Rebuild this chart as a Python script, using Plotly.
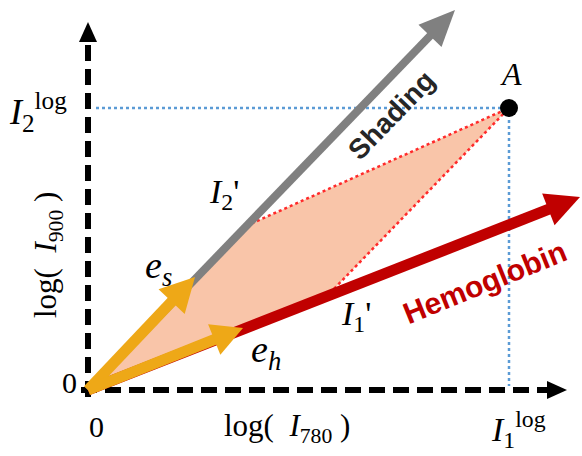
import math
import plotly.graph_objects as go

# ---- diagram data (logical units, origin at 0,0) ----
origin = [0, 0]
point_A = [421, 282]            # (I1_log, I2_log)
shading_tip = [367, 380]
hemoglobin_tip = [492, 193]
e_s_tip = [107, 113]
e_h_tip = [155, 62]
I2_prime = [158, 164]
I1_prime = [242, 97]
x_axis_end = [479, 0]
y_axis_end = [0, 368]
axis_start = -7

W, H = 582, 456
X0, Y0 = 88, 390  # pixel position of origin

fig = go.Figure()

def poly(xs, ys, color, line_color=None, lw=0):
    fig.add_trace(go.Scatter(x=xs, y=ys, mode="lines", fill="toself", fillcolor=color,
                             line=dict(color=line_color or color, width=lw),
                             hoverinfo="skip", showlegend=False))

def line(xs, ys, color, width, dash="solid"):
    fig.add_trace(go.Scatter(x=xs, y=ys, mode="lines",
                             line=dict(color=color, width=width, dash=dash),
                             hoverinfo="skip", showlegend=False))

def arrow(p0, p1, color, w, hl, hw):
    dx, dy = p1[0] - p0[0], p1[1] - p0[1]
    L = math.hypot(dx, dy)
    ux, uy = dx / L, dy / L
    bx, by = p1[0] - hl * ux, p1[1] - hl * uy
    px, py = -uy, ux
    line([p0[0], bx + 2 * ux], [p0[1], by + 2 * uy], color, w)
    poly([p1[0], bx + px * hw / 2, bx - px * hw / 2, p1[0]],
         [p1[1], by + py * hw / 2, by - py * hw / 2, p1[1]], color)

# shaded parallelogram
poly([origin[0], I1_prime[0], point_A[0], I2_prime[0], origin[0]],
     [origin[1], I1_prime[1], point_A[1], I2_prime[1], origin[1]], "#F9C5A9")

# blue projection lines
line([8, point_A[0]], [point_A[1], point_A[1]], "#5B9BD5", 2.5, "dot")
line([point_A[0], point_A[0]], [point_A[1], 4], "#5B9BD5", 2.5, "dot")

# axes
line([axis_start, x_axis_end[0] - 14], [0, 0], "black", 6, "16px,8px")
line([0, 0], [axis_start, y_axis_end[1] - 14], "black", 6, "16px,8px")
arrow([x_axis_end[0] - 20, 0], x_axis_end, "black", 1, 20, 18)
arrow([0, y_axis_end[1] - 20], y_axis_end, "black", 1, 20, 18)

# red dotted lines to A
line([I2_prime[0], point_A[0]], [I2_prime[1], point_A[1]], "#FF2A2A", 2.5, "dot")
line([I1_prime[0], point_A[0]], [I1_prime[1], point_A[1]], "#FF2A2A", 2.5, "dot")

# main direction arrows
arrow(origin, shading_tip, "#808080", 8, 36, 32)
arrow(origin, hemoglobin_tip, "#C00000", 11, 34, 34)

# unit vectors
arrow(origin, e_s_tip, "#EEA817", 11, 34, 36)
arrow(origin, e_h_tip, "#EEA817", 11, 31, 33)

# point A
fig.add_trace(go.Scatter(x=[point_A[0]], y=[point_A[1]], mode="markers",
                         marker=dict(color="black", size=18), hoverinfo="skip", showlegend=False))

serif = "Liberation Serif"
def text(x, y, s, size, color="black", family=serif, angle=0):
    fig.add_annotation(x=x, y=y, text=s, showarrow=False, textangle=angle,
                       font=dict(family=family, size=size, color=color))

text(-50, 278, "<i>I</i><sub>2</sub><sup>log</sup>", 36)
text(-40, 135, "log(  <i>I</i><sub>900</sub> )", 31, angle=-90)
text(-19, 8, "0", 30)
text(8, -36, "0", 30)
text(199, -38, "log(  <i>I</i><sub>780</sub> )", 31)
text(430, -39, "<i>I</i><sub>1</sub><sup>log</sup>", 34)
text(423, 316, "<i>A</i>", 32)
text(70, 122, "<i>e<sub>s</sub></i>", 38)
text(178, 38, "<i>e<sub>h</sub></i>", 38)
text(136, 196, "<i>I</i><sub>2</sub>'", 34)
text(268, 74, "<i>I</i><sub>1</sub>'", 34)
text(303, 275, "<b>Shading</b>", 28, "#262626", "Liberation Sans", -46)
text(396, 108, "<b>Hemoglobin</b>", 30, "#C00000", "Liberation Sans", -22)

fig.update_layout(
    width=W, height=H, autosize=False,
    margin=dict(l=0, r=0, t=0, b=0),
    paper_bgcolor="white", plot_bgcolor="white",
    xaxis=dict(range=[-X0, W - X0], visible=False, fixedrange=True),
    yaxis=dict(range=[Y0 - H, Y0], visible=False, fixedrange=True),
    showlegend=False,
)
fig.write_html("out.html", config={"displayModeBar": False},
               post_script="document.body.style.margin='0';document.body.style.overflow='hidden';")
